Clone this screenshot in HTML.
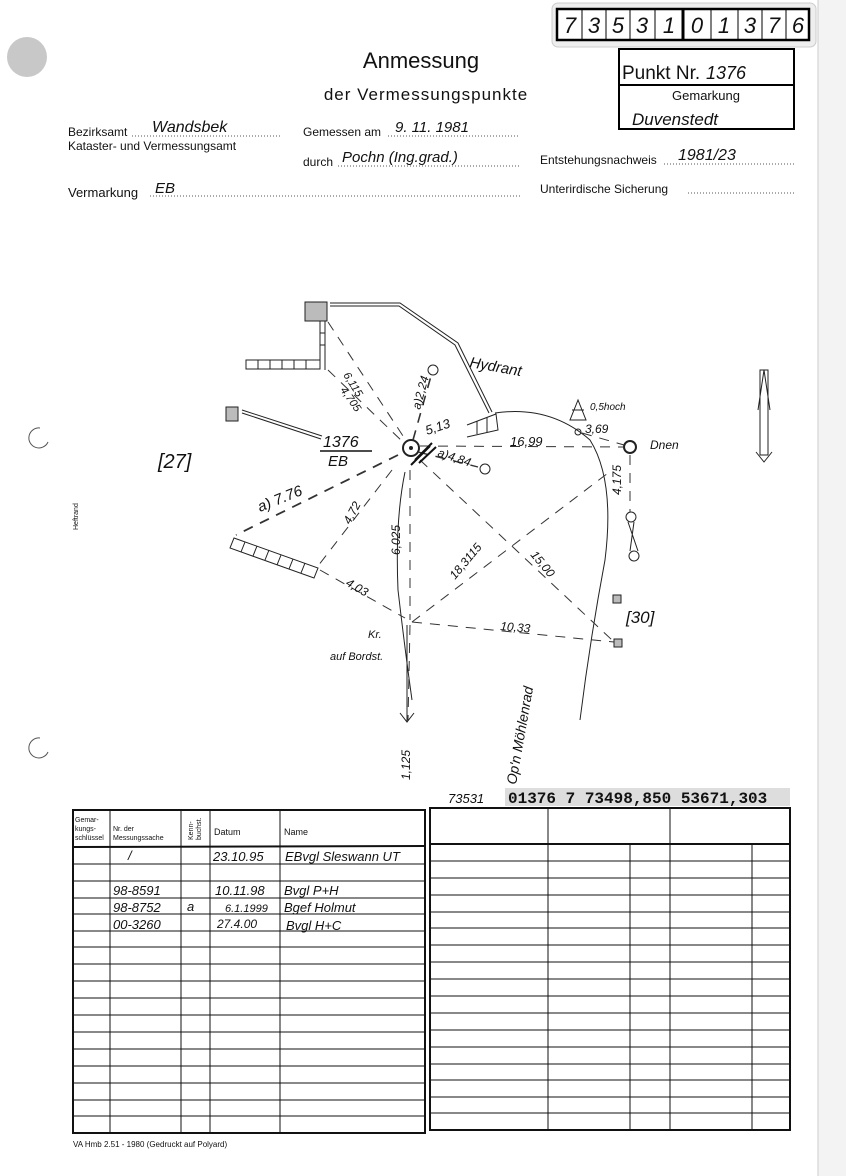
<!DOCTYPE html>
<html><head><meta charset="utf-8"><style>
html,body{margin:0;padding:0;background:#fff}
svg{display:block}
text{font-family:"Liberation Sans",sans-serif;fill:#111}
.h{font-family:"Liberation Sans",sans-serif;font-style:italic}
</style></head><body>
<svg width="846" height="1176" viewBox="0 0 846 1176" xmlns="http://www.w3.org/2000/svg">
<rect width="846" height="1176" fill="#fff"/>
<rect x="818" y="0" width="28" height="1176" fill="#f3f3f3"/>
<line x1="818" y1="0" x2="818" y2="1176" stroke="#ccc"/>
<circle cx="27" cy="57" r="20" fill="#c8c8c8"/>
<path d="M40,428 a10,10 0 1,0 8,14" fill="none" stroke="#555"/>
<path d="M40,738 a10,10 0 1,0 8,14" fill="none" stroke="#555"/>
<rect x="552" y="3" width="264" height="44" rx="6" fill="#eee" stroke="#ccc"/>
<rect x="557" y="9" width="252" height="31" fill="#fff" stroke="#000" stroke-width="2.5"/>
<g stroke="#000" stroke-width="1">
<line x1="582" y1="9" x2="582" y2="40"/><line x1="606" y1="9" x2="606" y2="40"/><line x1="630" y1="9" x2="630" y2="40"/><line x1="655" y1="9" x2="655" y2="40"/><line x1="738" y1="9" x2="738" y2="40"/><line x1="762" y1="9" x2="762" y2="40"/><line x1="786" y1="9" x2="786" y2="40"/><line x1="711" y1="9" x2="711" y2="40"/>
<line x1="683" y1="9" x2="683" y2="40" stroke-width="3"/>
</g>
<g font-size="22" class="h" text-anchor="middle">
<text x="570" y="33">7</text><text x="594" y="33">3</text><text x="618" y="33">5</text><text x="642" y="33">3</text><text x="669" y="33">1</text><text x="697" y="33">0</text><text x="724" y="33">1</text><text x="750" y="33">3</text><text x="774" y="33">7</text><text x="798" y="33">6</text>
</g>
<rect x="619" y="49" width="175" height="80" fill="none" stroke="#000" stroke-width="2"/>
<line x1="619" y1="85" x2="794" y2="85" stroke="#000" stroke-width="2"/>
<text x="622" y="79" font-size="19">Punkt Nr.</text>
<text x="706" y="79" font-size="18" class="h">1376</text>
<text x="706" y="100" font-size="13" text-anchor="middle">Gemarkung</text>
<text x="632" y="125" font-size="17" class="h">Duvenstedt</text>
<text x="421" y="68" font-size="22" text-anchor="middle">Anmessung</text>
<text x="426" y="100" font-size="17" text-anchor="middle" letter-spacing="1">der Vermessungspunkte</text>
<text x="68" y="136" font-size="12">Bezirksamt</text>
<text x="152" y="132" font-size="16" class="h">Wandsbek</text>
<line x1="132" y1="136" x2="280" y2="136" stroke="#555" stroke-dasharray="1,2"/>
<text x="68" y="150" font-size="12">Kataster- und Vermessungsamt</text>
<text x="303" y="136" font-size="12">Gemessen am</text>
<text x="395" y="132" font-size="15" class="h">9. 11. 1981</text>
<line x1="388" y1="136" x2="520" y2="136" stroke="#555" stroke-dasharray="1,2"/>
<text x="303" y="166" font-size="12">durch</text>
<text x="342" y="162" font-size="15" class="h">Pochn (Ing.grad.)</text>
<line x1="338" y1="166" x2="520" y2="166" stroke="#555" stroke-dasharray="1,2"/>
<text x="540" y="164" font-size="12">Entstehungsnachweis</text>
<text x="678" y="160" font-size="16" class="h">1981/23</text>
<line x1="664" y1="164" x2="796" y2="164" stroke="#555" stroke-dasharray="1,2"/>
<text x="68" y="197" font-size="13">Vermarkung</text>
<text x="155" y="193" font-size="15" class="h">EB</text>
<line x1="150" y1="196" x2="520" y2="196" stroke="#555" stroke-dasharray="1,2"/>
<text x="540" y="193" font-size="12">Unterirdische Sicherung</text>
<line x1="688" y1="193" x2="796" y2="193" stroke="#555" stroke-dasharray="1,2"/>
<text x="78" y="530" font-size="7" transform="rotate(-90 78 530)">Heftrand</text>

<g stroke="#222" fill="none" stroke-width="1">
<rect x="305" y="302" width="22" height="19" fill="#bbb"/>
<path d="M330,303 L400,303 L458,343 L492,412" /><path d="M330,306 L399,306 L455,345 L489,413"/>
<path d="M320,321 L320,369 L246,369 L246,360 L320,360"/>
<path d="M325,321 L325,370"/>
<path d="M258,360V369M270,360V369M282,360V369M294,360V369M306,360V369M320,333H325M320,345H325"/>
<rect x="226" y="407" width="12" height="14" fill="#bbb"/>
<path d="M242,410 L322,436 M242,413 L321,439"/>
<path d="M467,425 L496,414 L498,430 L467,437" />
<path d="M477,421V434M487,417V432"/>
<path d="M234,538 L318,568 L314,578 L230,548 Z"/>
<path d="M245,542L241,552M257,546L253,556M269,550L265,560M281,555L277,565M293,559L289,569M305,563L301,573"/>
<path d="M495,413 Q550,405 590,440 Q615,480 605,560 Q590,640 580,720"/>
<path d="M405,472 Q395,520 398,590 Q405,650 412,700"/>
<circle cx="411" cy="448" r="8" stroke-width="2"/><circle cx="411" cy="448" r="1.5" fill="#222"/>
<circle cx="433" cy="370" r="5"/>
<circle cx="630" cy="447" r="6" stroke-width="2"/>
<circle cx="485" cy="469" r="5"/>
<circle cx="631" cy="517" r="5"/><circle cx="634" cy="556" r="5"/>
<path d="M628,522 L638,551 M634,522 L630,551"/>
<rect x="613" y="595" width="8" height="8" fill="#bbb"/>
<rect x="614" y="639" width="8" height="8" fill="#bbb"/>
<circle cx="578" cy="432" r="3"/>
<path d="M578,400 L570,420 L586,420 Z M572,410 L584,410"/>
</g>
<g stroke="#333" stroke-dasharray="10,8" fill="none" stroke-width="1">
<line x1="328" y1="322" x2="407" y2="442"/><line x1="328" y1="370" x2="405" y2="444"/>
<line x1="413" y1="440" x2="431" y2="376" stroke-width="1.6"/>
<line x1="420" y1="446" x2="624" y2="447"/>
<line x1="418" y1="452" x2="478" y2="467" stroke-width="1.4"/>
<line x1="398" y1="455" x2="236" y2="535" stroke-width="1.8"/>
<line x1="392" y1="470" x2="318" y2="566"/>
<line x1="410" y1="470" x2="410" y2="620"/>
<line x1="420" y1="460" x2="612" y2="640"/>
<line x1="412" y1="622" x2="612" y2="470"/>
<line x1="412" y1="622" x2="614" y2="642"/>
<line x1="320" y1="570" x2="405" y2="618"/>
<line x1="630" y1="455" x2="630" y2="512"/>
<line x1="582" y1="433" x2="624" y2="445"/>
<line x1="410" y1="625" x2="408" y2="720"/>
</g>
<path d="M400,713 L407,722 L414,713 M407,722 L407,625" stroke="#222" fill="none"/>
<path d="M415,460 L432,443 M411,465 L430,446 M419,463 L436,447" stroke="#111" stroke-width="2"/>
<path d="M760,370 L768,370 L768,455 L760,455 Z M758,410 L764,370 L770,410 M756,452 L764,462 L772,452" fill="none" stroke="#222"/>
<g class="h" font-size="15">
<text x="469" y="367" transform="rotate(10 469 367)">Hydrant</text>
<text x="323" y="447" font-size="16">1376</text>
<line x1="320" y1="451" x2="372" y2="451" stroke="#111" stroke-width="1.5"/>
<text x="328" y="466">EB</text>
<text x="158" y="468" font-size="20">[27]</text>
<text x="626" y="623" font-size="17">[30]</text>
<text x="427" y="435" font-size="13" transform="rotate(-18 427 435)">5,13</text>
<text x="420" y="410" font-size="12" transform="rotate(-75 420 410)">a)2,24</text>
<text x="343" y="375" font-size="11" transform="rotate(58 343 375)">6,115</text>
<text x="340" y="390" font-size="11" transform="rotate(55 340 390)">4,705</text>
<text x="510" y="446" font-size="13">16,99</text>
<text x="585" y="433" font-size="12">3,69</text>
<text x="590" y="410" font-size="10">0,5hoch</text>
<text x="650" y="449" font-size="12">Dnen</text>
<text x="437" y="456" font-size="12" transform="rotate(18 437 456)">a)4,84</text>
<text x="260" y="512" font-size="15" transform="rotate(-22 260 512)">a) 7.76</text>
<text x="350" y="525" font-size="12" transform="rotate(-62 350 525)">4,72</text>
<text x="400" y="555" font-size="12" transform="rotate(-90 400 555)">6,025</text>
<text x="455" y="580" font-size="12" transform="rotate(-50 455 580)">18,3115</text>
<text x="530" y="555" font-size="12" transform="rotate(50 530 555)">15,00</text>
<text x="500" y="630" font-size="12" transform="rotate(5 500 630)">10,33</text>
<text x="345" y="585" font-size="12" transform="rotate(30 345 585)">4,03</text>
<text x="621" y="495" font-size="12" transform="rotate(-90 621 495)">4,175</text>
<text x="368" y="638" font-size="11">Kr.</text>
<text x="330" y="660" font-size="11">auf Bordst.</text>
<text x="410" y="780" font-size="12" transform="rotate(-90 410 780)">1,125</text>
<text x="516" y="785" font-size="14" transform="rotate(-80 516 785)">Op'n Möhlenrad</text>
</g>
<text x="448" y="803" font-size="13" class="h">73531</text>
<rect x="505" y="788" width="285" height="18" fill="#ddd"/>
<text x="508" y="803" font-size="16" font-weight="bold" style="font-family:'Liberation Mono',monospace">01376 7  73498,850  53671,303</text>

<g stroke="#111" fill="none">
<rect x="73" y="810" width="352" height="323" stroke-width="2"/>
<line x1="110" y1="810" x2="110" y2="1133"/><line x1="181" y1="810" x2="181" y2="1133"/><line x1="210" y1="810" x2="210" y2="1133"/><line x1="280" y1="810" x2="280" y2="1133"/>
<line x1="73" y1="847" x2="425" y2="846" stroke-width="2"/>
<path d="M73,864H425M73,881H425M73,898H425M73,914H425M73,931H425M73,947H425M73,964H425M73,981H425M73,998H425M73,1015H425M73,1032H425M73,1049H425M73,1066H425M73,1083H425M73,1100H425M73,1116H425"/>
<rect x="430" y="808" width="360" height="322" stroke-width="2"/>
<line x1="548" y1="808" x2="548" y2="1130"/><line x1="670" y1="808" x2="670" y2="1130"/>
<line x1="630" y1="844" x2="630" y2="1130"/><line x1="752" y1="844" x2="752" y2="1130"/>
<line x1="430" y1="844" x2="790" y2="844" stroke-width="2"/>
<path d="M430,861H790M430,878H790M430,895H790M430,912H790M430,928H790M430,945H790M430,962H790M430,979H790M430,996H790M430,1013H790M430,1030H790M430,1047H790M430,1064H790M430,1080H790M430,1097H790M430,1113H790"/>
</g>
<g font-size="7">
<text x="75" y="822">Gemar-</text><text x="75" y="831">kungs-</text><text x="75" y="840">schlüssel</text>
<text x="113" y="831">Nr. der</text><text x="113" y="840">Messungssache</text>
<text x="193" y="840" transform="rotate(-90 193 840)">Kenn-</text><text x="201" y="840" transform="rotate(-90 201 840)">buchst.</text>
</g>
<text x="214" y="835" font-size="9">Datum</text>
<text x="284" y="835" font-size="9">Name</text>
<g class="h" font-size="13">
<text x="128" y="860">/</text>
<text x="213" y="861">23.10.95</text><text x="285" y="861">EBvgl Sleswann UT</text>
<text x="113" y="895">98-8591</text><text x="215" y="895">10.11.98</text><text x="284" y="895">Bvgl P+H</text>
<text x="113" y="912">98-8752</text><text x="187" y="911">a</text><text x="225" y="912" font-size="11">6.1.1999</text><text x="284" y="912">Bgef Holmut</text>
<text x="113" y="929">00-3260</text><text x="217" y="928" font-size="12">27.4.00</text><text x="286" y="930">Bvgl H+C</text>
</g>
<text x="73" y="1147" font-size="8">VA Hmb 2.51 - 1980 (Gedruckt auf Polyard)</text>
</svg>
</body></html>
